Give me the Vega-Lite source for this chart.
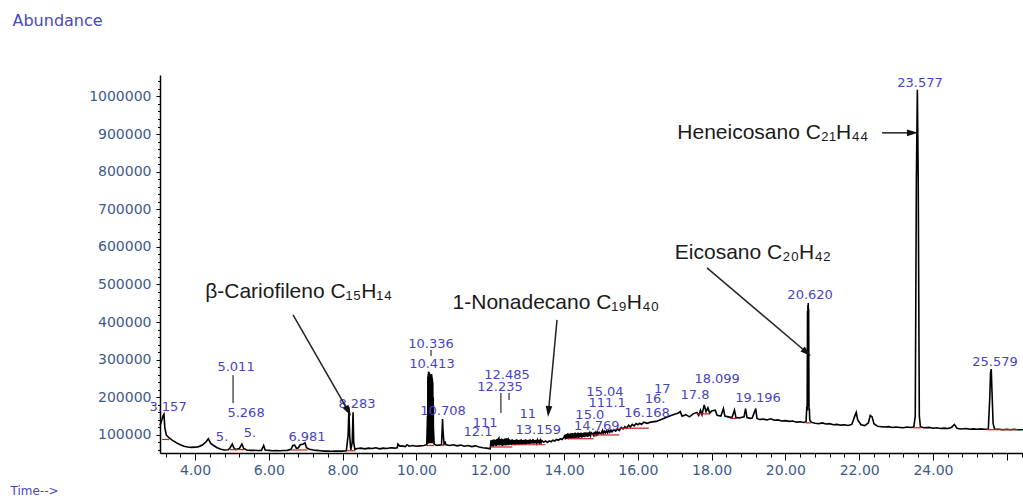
{
  "$schema": "https://vega.github.io/schema/vega-lite/v6.json",
  "width": 863,
  "height": 378,
  "autosize": {"type": "none"},
  "padding": {"left": 160, "top": 75, "right": 0, "bottom": 43},
  "background": "white",
  "config": {"view": {"stroke": null}},
  "datasets": {
    "trace": [
      {"t":3.05,"a":125000},{"t":3.10,"a":140000},{"t":3.13,"a":150000},{"t":3.157,"a":155000},{"t":3.18,"a":120000},{"t":3.22,"a":100000},{"t":3.30,"a":92000},{"t":3.40,"a":85000},{"t":3.50,"a":79000},{"t":3.60,"a":74000},{"t":3.70,"a":70000},{"t":3.80,"a":68000},{"t":3.90,"a":67000},{"t":4.00,"a":67500},{"t":4.10,"a":69000},{"t":4.20,"a":73000},{"t":4.30,"a":82000},{"t":4.36,"a":90000},{"t":4.42,"a":78000},{"t":4.50,"a":72000},{"t":4.60,"a":66000},{"t":4.70,"a":62000},{"t":4.80,"a":60000},{"t":4.90,"a":60500},{"t":4.95,"a":66000},{"t":5.01,"a":76000},{"t":5.05,"a":66000},{"t":5.10,"a":61000},{"t":5.20,"a":64000},{"t":5.27,"a":76000},{"t":5.32,"a":64000},{"t":5.40,"a":60000},{"t":5.50,"a":59000},{"t":5.60,"a":59500},{"t":5.70,"a":58500},{"t":5.80,"a":59000},{"t":5.86,"a":72000},{"t":5.90,"a":60000},{"t":6.00,"a":59000},{"t":6.10,"a":58000},{"t":6.20,"a":58500},{"t":6.30,"a":58000},{"t":6.40,"a":58500},{"t":6.50,"a":59000},{"t":6.60,"a":62000},{"t":6.65,"a":72000},{"t":6.70,"a":73000},{"t":6.75,"a":64000},{"t":6.80,"a":66000},{"t":6.85,"a":74000},{"t":6.92,"a":75000},{"t":6.98,"a":79000},{"t":7.02,"a":66000},{"t":7.10,"a":62000},{"t":7.20,"a":60000},{"t":7.30,"a":59000},{"t":7.40,"a":58000},{"t":7.50,"a":57000},{"t":7.60,"a":57500},{"t":7.70,"a":56500},{"t":7.80,"a":57000},{"t":7.90,"a":57500},{"t":8.00,"a":57000},{"t":8.10,"a":58000},{"t":8.15,"a":100000},{"t":8.17,"a":172000},{"t":8.19,"a":100000},{"t":8.22,"a":60000},{"t":8.26,"a":80000},{"t":8.283,"a":160000},{"t":8.30,"a":80000},{"t":8.33,"a":62000},{"t":8.40,"a":64000},{"t":8.50,"a":65000},{"t":8.60,"a":63000},{"t":8.70,"a":65000},{"t":8.80,"a":64000},{"t":8.90,"a":66000},{"t":9.00,"a":63000},{"t":9.10,"a":65000},{"t":9.20,"a":64000},{"t":9.30,"a":66000},{"t":9.40,"a":65000},{"t":9.48,"a":66000},{"t":9.50,"a":76000},{"t":9.55,"a":70000},{"t":9.60,"a":71000},{"t":9.70,"a":69000},{"t":9.75,"a":74000},{"t":9.80,"a":70000},{"t":9.90,"a":72000},{"t":10.00,"a":70000},{"t":10.10,"a":71000},{"t":10.20,"a":72000},{"t":10.28,"a":74000},
      {"t":10.30,"a":150000},{"t":10.305,"a":76000},{"t":10.31,"a":255000},{"t":10.315,"a":78000},{"t":10.32,"a":262000},{"t":10.325,"a":78000},{"t":10.33,"a":266000},{"t":10.336,"a":268000},{"t":10.34,"a":78000},{"t":10.345,"a":266000},{"t":10.35,"a":78000},{"t":10.355,"a":264000},{"t":10.36,"a":78000},{"t":10.365,"a":262000},{"t":10.37,"a":78000},{"t":10.375,"a":260000},{"t":10.38,"a":78000},{"t":10.385,"a":259000},{"t":10.39,"a":78000},{"t":10.395,"a":258000},{"t":10.40,"a":78000},{"t":10.405,"a":260000},{"t":10.41,"a":78000},{"t":10.413,"a":262000},{"t":10.418,"a":78000},{"t":10.423,"a":255000},{"t":10.428,"a":78000},{"t":10.433,"a":248000},{"t":10.438,"a":78000},{"t":10.443,"a":240000},{"t":10.45,"a":78000},{"t":10.455,"a":200000},{"t":10.46,"a":120000},{"t":10.48,"a":76000},
      {"t":10.55,"a":72000},{"t":10.60,"a":73000},{"t":10.68,"a":74000},{"t":10.70,"a":120000},{"t":10.708,"a":142000},{"t":10.72,"a":110000},{"t":10.75,"a":76000},{"t":10.78,"a":80000},{"t":10.80,"a":74000},{"t":10.90,"a":72000},{"t":11.00,"a":74000},{"t":11.10,"a":71000},{"t":11.20,"a":73000},{"t":11.30,"a":70000},{"t":11.40,"a":72000},{"t":11.50,"a":69000},{"t":11.60,"a":71000},{"t":11.70,"a":68000},{"t":11.80,"a":66000},{"t":11.90,"a":65000},
      {"t":12.00,"a":63000},{"t":12.02,"a":86000},{"t":12.04,"a":70000},{"t":12.06,"a":87000},{"t":12.08,"a":69000},{"t":12.10,"a":88000},{"t":12.12,"a":72000},{"t":12.14,"a":87000},{"t":12.16,"a":70000},{"t":12.18,"a":89000},{"t":12.20,"a":72000},{"t":12.22,"a":90000},{"t":12.235,"a":92000},{"t":12.25,"a":72000},{"t":12.27,"a":89000},{"t":12.29,"a":73000},{"t":12.31,"a":90000},{"t":12.33,"a":71000},{"t":12.35,"a":88000},{"t":12.37,"a":73000},{"t":12.39,"a":90000},{"t":12.41,"a":72000},{"t":12.43,"a":91000},{"t":12.45,"a":73000},{"t":12.47,"a":89000},{"t":12.485,"a":90000},{"t":12.50,"a":73000},{"t":12.52,"a":88000},{"t":12.54,"a":74000},{"t":12.56,"a":87000},{"t":12.58,"a":73000},{"t":12.60,"a":88000},{"t":12.62,"a":74000},{"t":12.64,"a":86000},{"t":12.66,"a":73000},{"t":12.68,"a":87000},{"t":12.70,"a":74000},{"t":12.72,"a":88000},{"t":12.74,"a":75000},{"t":12.76,"a":86000},{"t":12.78,"a":74000},{"t":12.80,"a":87000},{"t":12.82,"a":75000},{"t":12.84,"a":88000},{"t":12.86,"a":74000},{"t":12.88,"a":86000},{"t":12.90,"a":76000},{"t":12.92,"a":87000},{"t":12.94,"a":75000},{"t":12.96,"a":88000},{"t":12.98,"a":76000},{"t":13.00,"a":86000},{"t":13.02,"a":77000},{"t":13.04,"a":87000},{"t":13.06,"a":76000},{"t":13.08,"a":88000},{"t":13.10,"a":77000},{"t":13.12,"a":86000},{"t":13.14,"a":78000},{"t":13.159,"a":89000},{"t":13.18,"a":77000},{"t":13.20,"a":86000},{"t":13.22,"a":78000},{"t":13.24,"a":87000},{"t":13.26,"a":79000},{"t":13.28,"a":86000},{"t":13.30,"a":78000},{"t":13.32,"a":87000},{"t":13.34,"a":80000},{"t":13.36,"a":86000},{"t":13.38,"a":79000},{"t":13.40,"a":85000},{"t":13.45,"a":81000},{"t":13.50,"a":84000},{"t":13.55,"a":80000},{"t":13.60,"a":84000},{"t":13.65,"a":82000},{"t":13.70,"a":86000},{"t":13.75,"a":84000},{"t":13.80,"a":88000},{"t":13.85,"a":86000},{"t":13.90,"a":90000},{"t":13.95,"a":88000},{"t":14.00,"a":94000},{"t":14.02,"a":100000},{"t":14.04,"a":88000},{"t":14.06,"a":102000},{"t":14.08,"a":90000},{"t":14.10,"a":104000},{"t":14.12,"a":89000},{"t":14.14,"a":103000},{"t":14.16,"a":90000},{"t":14.18,"a":104000},{"t":14.20,"a":91000},{"t":14.22,"a":105000},{"t":14.24,"a":92000},{"t":14.26,"a":104000},{"t":14.28,"a":91000},{"t":14.30,"a":106000},{"t":14.32,"a":92000},{"t":14.34,"a":104000},{"t":14.36,"a":93000},{"t":14.38,"a":106000},{"t":14.40,"a":92000},{"t":14.42,"a":105000},{"t":14.44,"a":94000},{"t":14.46,"a":106000},{"t":14.48,"a":93000},{"t":14.50,"a":105000},{"t":14.52,"a":95000},{"t":14.54,"a":106000},{"t":14.56,"a":94000},{"t":14.58,"a":107000},{"t":14.60,"a":96000},{"t":14.62,"a":106000},{"t":14.64,"a":95000},{"t":14.66,"a":107000},{"t":14.68,"a":97000},{"t":14.70,"a":105000},{"t":14.72,"a":98000},{"t":14.74,"a":106000},{"t":14.769,"a":104000},{"t":14.80,"a":99000},{"t":14.82,"a":108000},{"t":14.84,"a":100000},{"t":14.86,"a":106000},{"t":14.88,"a":101000},{"t":14.90,"a":108000},{"t":14.92,"a":102000},{"t":14.95,"a":107000},{"t":15.00,"a":103000},{"t":15.041,"a":112000},{"t":15.06,"a":104000},{"t":15.09,"a":110000},{"t":15.12,"a":105000},{"t":15.15,"a":111000},{"t":15.18,"a":106000},{"t":15.21,"a":112000},{"t":15.24,"a":107000},{"t":15.27,"a":113000},{"t":15.30,"a":108000},{"t":15.35,"a":114000},{"t":15.40,"a":110000},{"t":15.45,"a":116000},{"t":15.50,"a":112000},{"t":15.55,"a":120000},{"t":15.60,"a":116000},{"t":15.65,"a":122000},{"t":15.70,"a":118000},{"t":15.75,"a":126000},{"t":15.80,"a":121000},{"t":15.85,"a":128000},{"t":15.90,"a":124000},{"t":15.95,"a":130000},{"t":16.00,"a":127000},{"t":16.05,"a":131000},{"t":16.10,"a":128000},{"t":16.168,"a":134000},{"t":16.25,"a":131000},{"t":16.35,"a":134000},{"t":16.50,"a":136000},
      {"t":16.60,"a":140000},{"t":16.70,"a":144000},{"t":16.80,"a":148000},{"t":16.90,"a":152000},{"t":17.00,"a":155000},{"t":17.10,"a":158000},{"t":17.15,"a":162000},{"t":17.20,"a":150000},{"t":17.30,"a":154000},{"t":17.40,"a":148000},{"t":17.50,"a":156000},{"t":17.60,"a":160000},{"t":17.65,"a":152000},{"t":17.70,"a":166000},{"t":17.74,"a":154000},{"t":17.80,"a":180000},{"t":17.85,"a":162000},{"t":17.90,"a":172000},{"t":17.95,"a":158000},{"t":18.00,"a":164000},{"t":18.099,"a":166000},{"t":18.15,"a":152000},{"t":18.25,"a":150000},{"t":18.32,"a":170000},{"t":18.36,"a":150000},{"t":18.45,"a":148000},{"t":18.55,"a":146000},{"t":18.62,"a":166000},{"t":18.66,"a":146000},{"t":18.75,"a":145000},{"t":18.88,"a":148000},{"t":18.92,"a":170000},{"t":18.96,"a":146000},{"t":19.05,"a":144000},{"t":19.10,"a":145000},{"t":19.196,"a":170000},{"t":19.23,"a":144000},{"t":19.30,"a":141000},{"t":19.40,"a":142000},{"t":19.50,"a":140000},{"t":19.60,"a":143000},{"t":19.70,"a":139000},{"t":19.80,"a":140000},{"t":19.90,"a":137000},{"t":20.00,"a":138000},{"t":20.10,"a":136000},{"t":20.20,"a":137000},{"t":20.30,"a":134000},{"t":20.40,"a":135000},{"t":20.50,"a":133000},{"t":20.56,"a":135000},
      {"t":20.58,"a":175000},{"t":20.59,"a":165000},{"t":20.60,"a":430000},{"t":20.605,"a":175000},{"t":20.61,"a":445000},{"t":20.615,"a":175000},{"t":20.62,"a":451000},{"t":20.625,"a":175000},{"t":20.63,"a":435000},{"t":20.64,"a":165000},{"t":20.65,"a":170000},{"t":20.66,"a":140000},{"t":20.70,"a":134000},
      {"t":20.80,"a":131000},{"t":20.90,"a":130000},{"t":21.00,"a":132000},{"t":21.10,"a":129000},{"t":21.20,"a":130000},{"t":21.30,"a":127000},{"t":21.40,"a":128000},{"t":21.50,"a":126000},{"t":21.60,"a":127000},{"t":21.70,"a":125000},{"t":21.80,"a":128000},{"t":21.88,"a":150000},{"t":21.92,"a":160000},{"t":21.96,"a":140000},{"t":22.05,"a":127000},{"t":22.15,"a":125000},{"t":22.25,"a":132000},{"t":22.30,"a":152000},{"t":22.35,"a":148000},{"t":22.40,"a":130000},{"t":22.50,"a":123000},{"t":22.60,"a":122000},{"t":22.70,"a":121000},{"t":22.80,"a":122000},{"t":22.90,"a":120000},{"t":23.00,"a":121000},{"t":23.10,"a":120000},{"t":23.20,"a":119000},{"t":23.30,"a":121000},{"t":23.40,"a":120000},{"t":23.48,"a":121000},{"t":23.52,"a":150000},{"t":23.55,"a":780000},{"t":23.577,"a":1018000},{"t":23.60,"a":780000},{"t":23.63,"a":150000},{"t":23.66,"a":122000},{"t":23.75,"a":119000},{"t":23.90,"a":120000},{"t":24.00,"a":118000},{"t":24.10,"a":119000},{"t":24.20,"a":117000},{"t":24.30,"a":118000},{"t":24.40,"a":117000},{"t":24.50,"a":120000},{"t":24.58,"a":128000},{"t":24.65,"a":118000},{"t":24.75,"a":116000},{"t":24.90,"a":117000},{"t":25.00,"a":115000},{"t":25.10,"a":116000},{"t":25.20,"a":115000},{"t":25.30,"a":116000},{"t":25.40,"a":115000},{"t":25.50,"a":116000},{"t":25.54,"a":200000},{"t":25.56,"a":265000},{"t":25.579,"a":275000},{"t":25.60,"a":215000},{"t":25.63,"a":130000},{"t":25.67,"a":116000},{"t":25.80,"a":115000},{"t":25.90,"a":114000},{"t":26.00,"a":115000},{"t":26.10,"a":114000},{"t":26.20,"a":115000},{"t":26.30,"a":114000},{"t":26.44,"a":114000}
    ],
    "baselines": [
      {"t":3.10,"t2":3.30,"a":88000},{"t":4.95,"t2":5.35,"a":61000},{"t":6.60,"t2":7.05,"a":60000},{"t":8.12,"t2":8.35,"a":58000},{"t":10.28,"t2":10.48,"a":72000},{"t":10.68,"t2":10.76,"a":73000},{"t":12.00,"t2":12.60,"a":68000},{"t":12.60,"t2":13.50,"a":74000},{"t":14.10,"t2":14.80,"a":90000},{"t":14.80,"t2":15.50,"a":100000},{"t":15.50,"t2":16.30,"a":118000},{"t":17.60,"t2":17.95,"a":156000},{"t":18.50,"t2":18.70,"a":144000},{"t":20.55,"t2":20.70,"a":132000},{"t":23.47,"t2":23.68,"a":119000},{"t":25.45,"t2":26.30,"a":114000}
    ],
    "leaders": [
      {"t":5.03,"a":259000,"a2":185000},{"t":10.395,"a":326000,"a2":310000},{"t":12.29,"a":211600,"a2":158400},{"t":12.51,"a":211600,"a2":193000}
    ],
    "peaklabels": [
      {"label":"3.157","t":3.268,"a":174400},{"label":"5.011","t":5.111,"a":280800},{"label":"5.268","t":5.382,"a":158400},{"label":"5.","t":4.732,"a":94600},{"label":"5.","t":5.49,"a":105200},{"label":"6.981","t":7.035,"a":94600},{"label":"8.283","t":8.39,"a":182300},{"label":"10.336","t":10.396,"a":342000},{"label":"10.413","t":10.42,"a":288700},{"label":"10.708","t":10.72,"a":163700},{"label":"12.485","t":12.455,"a":259500},{"label":"12.235","t":12.266,"a":227600},{"label":"11","t":13.02,"a":155700},{"label":"111","t":11.86,"a":131800},{"label":"12.1","t":11.67,"a":107900},{"label":"13.159","t":13.30,"a":113200},{"label":"14.769","t":14.89,"a":123800},{"label":"15.0","t":14.70,"a":153000},{"label":"15.04","t":15.11,"a":214300},{"label":"111.1","t":15.17,"a":185000},{"label":"16.168","t":16.25,"a":158400},{"label":"16.","t":16.47,"a":195600},{"label":"17","t":16.66,"a":222200},{"label":"17.8","t":17.55,"a":206300},{"label":"18.099","t":18.15,"a":248800},{"label":"19.196","t":19.26,"a":198300},{"label":"20.620","t":20.67,"a":472300},{"label":"23.577","t":23.65,"a":1036200},{"label":"25.579","t":25.68,"a":294100}
    ],
    "compounds": [
      {"name":"β-Cariofileno C₁₅H₁₄","t":6.805,"a":480300,"t0":6.656,"a0":419000,"t1":8.154,"a1":163200},
      {"name":"1-Nonadecano C₁₉H₄₀","t":13.78,"a":450000,"t0":13.81,"a0":405800,"t1":13.58,"a1":162400},
      {"name":"Eicosano C₂₀H₄₂","t":19.12,"a":584000,"t0":17.875,"a0":544100,"t1":20.58,"a1":319300},
      {"name":"Heneicosano C₂₁H₄₄","t":19.66,"a":903200,"t0":22.62,"a0":903200,"t1":23.444,"a1":903200}
    ]
  },
  "resolve": {"axis": {"x": "independent", "y": "independent"}},
  "layer": [
    {
      "data": {"name": "trace"},
      "mark": {"type": "line", "color": "black", "strokeWidth": 1.6},
      "encoding": {
        "x": {"field": "t", "type": "quantitative",
          "scale": {"domain": [3.05, 26.44], "nice": false, "zero": false},
          "axis": {"orient": "bottom", "values": [4,6,8,10,12,14,16,18,20,22,24,26],
            "labelExpr": "datum.value > 25 ? '' : format(datum.value, '.2f')",
            "grid": false, "tickSize": 7, "tickColor": "black", "tickWidth": 1,
            "domainColor": "black", "domainWidth": 1.5,
            "labelFont": "DejaVu Sans", "labelFontSize": 14, "labelColor": "#3d5a8c", "labelPadding": 3,
            "title": "Time-->", "titleX": -150, "titleY": 37, "titleAlign": "left", "titleBaseline": "middle",
            "titleFont": "DejaVu Sans", "titleFontSize": 12, "titleFontWeight": "normal", "titleColor": "#4848c0"}},
        "y": {"field": "a", "type": "quantitative",
          "scale": {"domain": [52000, 1057000], "nice": false, "zero": false},
          "axis": {"orient": "left", "values": [100000,200000,300000,400000,500000,600000,700000,800000,900000,1000000],
            "format": "d", "grid": false, "tickSize": 4, "tickColor": "black",
            "domainColor": "black", "domainWidth": 1.5,
            "labelFont": "DejaVu Sans", "labelFontSize": 14, "labelColor": "#3d5a8c", "labelPadding": 5,
            "title": "Abundance", "titleAngle": 0, "titleX": -148, "titleY": -55, "titleAlign": "left", "titleBaseline": "middle",
            "titleFont": "DejaVu Sans", "titleFontSize": 16, "titleFontWeight": "normal", "titleColor": "#4848c0"}}
      }
    },
    {
      "data": {"name": "baselines"},
      "mark": {"type": "rule", "color": "#c0201a", "strokeWidth": 1.2},
      "encoding": {
        "x": {"field": "t", "type": "quantitative",
          "axis": {"orient": "bottom", "values": [3.2,3.6,4.0,4.4,4.8,5.2,5.6,6.0,6.4,6.8,7.2,7.6,8.0,8.4,8.8,9.2,9.6,10.0,10.4,10.8,11.2,11.6,12.0,12.4,12.8,13.2,13.6,14.0,14.4,14.8,15.2,15.6,16.0,16.4,16.8,17.2,17.6,18.0,18.4,18.8,19.2,19.6,20.0,20.4,20.8,21.2,21.6,22.0,22.4,22.8,23.2,23.6,24.0,24.4,24.8,25.2,25.6,26.0,26.4],
            "labels": false, "domain": false, "grid": false, "tickSize": 4, "tickColor": "black", "title": null}},
        "x2": {"field": "t2"},
        "y": {"field": "a", "type": "quantitative",
          "axis": {"orient": "left", "values": [60000,80000,100000,120000,140000,160000,180000,200000,220000,240000,260000,280000,300000,320000,340000,360000,380000,400000,420000,440000,460000,480000,500000,520000,540000,560000,580000,600000,620000,640000,660000,680000,700000,720000,740000,760000,780000,800000,820000,840000,860000,880000,900000,920000,940000,960000,980000,1000000,1020000,1040000],
            "labels": false, "domain": false, "grid": false, "tickSize": 2.5, "tickColor": "black", "title": null}}
      }
    },
    {
      "data": {"name": "leaders"},
      "mark": {"type": "rule", "color": "black", "strokeWidth": 1},
      "encoding": {
        "x": {"field": "t", "type": "quantitative", "axis": null},
        "y": {"field": "a", "type": "quantitative", "axis": null},
        "y2": {"field": "a2"}
      }
    },
    {
      "data": {"name": "peaklabels"},
      "mark": {"type": "text", "font": "DejaVu Sans", "fontSize": 13, "color": "#4545c4", "align": "center", "baseline": "middle", "clip": false},
      "encoding": {
        "x": {"field": "t", "type": "quantitative", "axis": null},
        "y": {"field": "a", "type": "quantitative", "axis": null},
        "text": {"field": "label"}
      }
    },
    {
      "data": {"name": "compounds"},
      "mark": {"type": "rule", "color": "#222222", "strokeWidth": 1.5},
      "encoding": {
        "x": {"field": "t0", "type": "quantitative", "axis": null},
        "y": {"field": "a0", "type": "quantitative", "axis": null},
        "x2": {"field": "t1"},
        "y2": {"field": "a1"}
      }
    },
    {
      "data": {"name": "compounds"},
      "mark": {"type": "text", "font": "Liberation Sans", "fontSize": 21, "color": "#1a1a1a", "align": "center", "baseline": "middle"},
      "encoding": {
        "x": {"field": "t", "type": "quantitative", "axis": null},
        "y": {"field": "a", "type": "quantitative", "axis": null},
        "text": {"field": "name"}
      }
    },
    {
      "data": {"name": "compounds"},
      "transform": [{"filter": "datum.name == 'β-Cariofileno C₁₅H₁₄'"}],
      "mark": {"type": "point", "shape": "M0,-1L0.6,1L-0.6,1Z", "filled": true, "color": "#111111", "opacity": 1, "size": 121, "angle": 150.3},
      "encoding": {
        "x": {"field": "t1", "type": "quantitative", "axis": null},
        "y": {"field": "a1", "type": "quantitative", "axis": null}
      }
    },
    {
      "data": {"name": "compounds"},
      "transform": [{"filter": "datum.name == '1-Nonadecano C₁₉H₄₀'"}],
      "mark": {"type": "point", "shape": "M0,-1L0.6,1L-0.6,1Z", "filled": true, "color": "#111111", "opacity": 1, "size": 121, "angle": 185.4},
      "encoding": {
        "x": {"field": "t1", "type": "quantitative", "axis": null},
        "y": {"field": "a1", "type": "quantitative", "axis": null}
      }
    },
    {
      "data": {"name": "compounds"},
      "transform": [{"filter": "datum.name == 'Eicosano C₂₀H₄₂'"}],
      "mark": {"type": "point", "shape": "M0,-1L0.6,1L-0.6,1Z", "filled": true, "color": "#111111", "opacity": 1, "size": 121, "angle": 130.2},
      "encoding": {
        "x": {"field": "t1", "type": "quantitative", "axis": null},
        "y": {"field": "a1", "type": "quantitative", "axis": null}
      }
    },
    {
      "data": {"name": "compounds"},
      "transform": [{"filter": "datum.name == 'Heneicosano C₂₁H₄₄'"}],
      "mark": {"type": "point", "shape": "M0,-1L0.6,1L-0.6,1Z", "filled": true, "color": "#111111", "opacity": 1, "size": 121, "angle": 90},
      "encoding": {
        "x": {"field": "t1", "type": "quantitative", "axis": null},
        "y": {"field": "a1", "type": "quantitative", "axis": null}
      }
    }
  ]
}
